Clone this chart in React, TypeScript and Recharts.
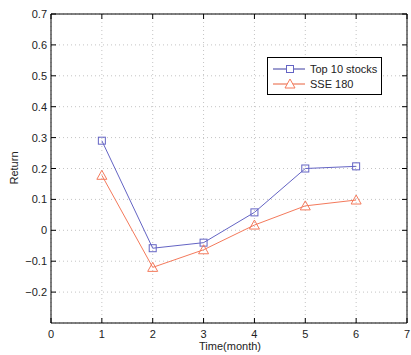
import React from 'react';
import {
  LineChart,
  Line,
  XAxis,
  YAxis,
  CartesianGrid,
  Label,
} from 'recharts';

const months = [1, 2, 3, 4, 5, 6];
const top10 = [0.29, -0.058, -0.04, 0.058, 0.2, 0.207];
const sse180 = [0.178, -0.12, -0.063, 0.017, 0.079, 0.098];
const xTicks = [0, 1, 2, 3, 4, 5, 6, 7];
const yTicks = [-0.2, -0.1, 0, 0.1, 0.2, 0.3, 0.4, 0.5, 0.6, 0.7];

const BLUE = '#6464c4';
const ORANGE = '#f47a5c';
const FONT = '"Liberation Sans", Arial, sans-serif';

const data = months.map((m, i) => ({ month: m, top10: top10[i], sse180: sse180[i] }));

const fmt = (v: number) => {
  if (v === 0) return '0';
  const s = Math.abs(v).toFixed(1);
  return v < 0 ? '\u2212' + s : s;
};

const Square = (props: any) => {
  const { cx, cy, stroke } = props;
  if (cx == null || cy == null) return null;
  return <rect x={cx - 3.5} y={cy - 3.5} width={7} height={7} fill="none" stroke={stroke} strokeWidth={1} />;
};

const Triangle = (props: any) => {
  const { cx, cy, stroke } = props;
  if (cx == null || cy == null) return null;
  return (
    <path
      d={`M${cx},${cy - 5} L${cx + 5},${cy + 4} L${cx - 5},${cy + 4} Z`}
      fill="none"
      stroke={stroke}
      strokeWidth={1}
    />
  );
};

const BottomTick = (props: any) => {
  const { x, y, payload } = props;
  return (
    <g>
      <line x1={x} y1={y} x2={x} y2={y - 5} stroke="#000" />
      <text x={x} y={y + 15} textAnchor="middle" fontSize={11} fill="#222" fontFamily={FONT}>
        {payload.value}
      </text>
    </g>
  );
};

const TopTick = (props: any) => {
  const { x, y } = props;
  return <line x1={x} y1={y} x2={x} y2={y + 5} stroke="#000" />;
};

const LeftTick = (props: any) => {
  const { x, y, payload } = props;
  return (
    <g>
      <line x1={x} y1={y} x2={x + 5} y2={y} stroke="#000" />
      <text x={x - 4} y={y + 4} textAnchor="end" fontSize={11} fill="#222" fontFamily={FONT}>
        {fmt(payload.value)}
      </text>
    </g>
  );
};

const RightTick = (props: any) => {
  const { x, y } = props;
  return <line x1={x} y1={y} x2={x - 5} y2={y} stroke="#000" />;
};

const LegendBox = () => (
  <div
    style={{
      position: 'absolute',
      left: 267,
      top: 57,
      width: 115,
      height: 38,
      border: '1px solid #000',
      background: '#fff',
      fontFamily: FONT,
      fontSize: 11,
      color: '#222',
      boxSizing: 'border-box',
    }}
  >
    <svg width={113} height={36} style={{ display: 'block' }}>
      <line x1={5} y1={11} x2={37} y2={11} stroke="#3a3aa0" />
      <rect x={18.5} y={7.5} width={7} height={7} fill="#fff" stroke={BLUE} />
      <text x={42} y={15} fontSize={11} fill="#222" fontFamily={FONT}>Top 10 stocks</text>
      <line x1={5} y1={26} x2={37} y2={26} stroke="#e8603c" />
      <path d="M22,21 L27,30 L17,30 Z" fill="#fff" stroke={ORANGE} />
      <text x={42} y={30} fontSize={11} fill="#222" fontFamily={FONT}>SSE 180</text>
    </svg>
  </div>
);

export default function App() {
  return (
    <div style={{ position: 'absolute', left: 0, top: 0, width: 411, height: 355, background: '#fff' }}>
      <LineChart
        width={411}
        height={355}
        data={data}
        margin={{ top: 13, right: 3, left: 0, bottom: 0 }}
        style={{ overflow: 'visible' }}
      >
        <CartesianGrid stroke="#c4c4c4" strokeDasharray="1 3" />
        <XAxis
          dataKey="month"
          type="number"
          domain={[0, 7]}
          ticks={xTicks}
          interval={0}
          height={32}
          tickSize={0}
          tickMargin={0}
          stroke="#000"
          tick={<BottomTick />}
        >
          <Label
            content={() => (
              <text x={230} y={350} textAnchor="middle" fontSize={11} fill="#222" fontFamily={FONT}>
                Time(month)
              </text>
            )}
          />
        </XAxis>
        <XAxis
          xAxisId="top"
          orientation="top"
          dataKey="month"
          type="number"
          domain={[0, 7]}
          ticks={xTicks}
          interval={0}
          height={1}
          tickSize={0}
          tickMargin={0}
          stroke="#000"
          tick={<TopTick />}
        />
        <YAxis
          type="number"
          domain={[-0.3, 0.7]}
          ticks={yTicks}
          interval={0}
          width={51}
          tickSize={0}
          tickMargin={0}
          stroke="#000"
          tick={<LeftTick />}
        >
          <Label
            content={() => (
              <text
                x={18}
                y={168}
                transform="rotate(-90 18 168)"
                textAnchor="middle"
                fontSize={11}
                fill="#222"
                fontFamily={FONT}
              >
                Return
              </text>
            )}
          />
        </YAxis>
        <YAxis
          yAxisId="right"
          orientation="right"
          type="number"
          domain={[-0.3, 0.7]}
          ticks={yTicks}
          interval={0}
          width={1}
          tickSize={0}
          tickMargin={0}
          stroke="#000"
          tick={<RightTick />}
        />
        <Line
          xAxisId="top"
          yAxisId="right"
          dataKey="top10"
          stroke="none"
          dot={false}
          activeDot={false}
          isAnimationActive={false}
        />
        <Line
          dataKey="top10"
          stroke={BLUE}
          strokeWidth={1}
          dot={<Square />}
          activeDot={false}
          isAnimationActive={false}
        />
        <Line
          dataKey="sse180"
          stroke={ORANGE}
          strokeWidth={1}
          dot={<Triangle />}
          activeDot={false}
          isAnimationActive={false}
        />
      </LineChart>
      <LegendBox />
    </div>
  );
}
